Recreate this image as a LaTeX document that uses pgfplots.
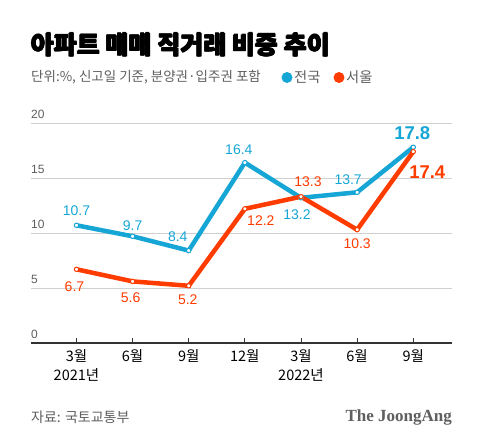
\documentclass[border=0pt]{standalone}
\usepackage{fontspec}
\setmainfont{Liberation Sans}
\newfontfamily\kr{Noto Sans CJK KR}
\newfontfamily\jserif{Liberation Serif}
\usepackage{pgfplots}
\pgfplotsset{compat=1.18}
\usepackage{pgfplotstable}
\definecolor{cblue}{RGB}{22,166,214}
\definecolor{cred}{RGB}{255,60,0}
\definecolor{tgray}{RGB}{95,95,95}
\definecolor{ggray}{RGB}{208,208,208}

\pgfplotstableread{
x y dx dy big
0 10.7 0 15 0
1 9.7 0 11 0
2 8.4 -11 14 0
3 16.4 -6 13 0
4 13.2 -4 -17 0
5 13.7 -9 13 0
6 17.8 -1 14 1
}\tblblue

\pgfplotstableread{
x y dx dy big
0 6.7 -2 -17 0
1 5.6 -2 -16 0
2 5.2 -1 -14 0
3 12.2 16 -12 0
4 13.3 7 15 0
5 10.3 0 -14 0
6 17.4 14 -21 1
}\tblred

\begin{document}
\begin{tikzpicture}
\useasboundingbox[fill=white] (0,0) rectangle (480pt,444pt);
% title (overprinted for a heavier weight)
\foreach \ox/\oy in {0/0, 0.45/0, 0.9/0, 0.45/0.35, 0.45/-0.35}{
  \node[anchor=west, inner sep=0pt] at (30.5pt+\ox pt,399pt+\oy pt) {\kr\bfseries\fontsize{25}{28}\selectfont 아파트 매매 직거래 비중 추이};
}
\node[anchor=west, inner sep=0pt, text=tgray] at (31pt,366.5pt) {\kr\fontsize{13.5}{15}\selectfont 단위:\%, 신고일 기준, 분양권·입주권 포함};
\fill[cblue] (287pt,366.5pt) circle (5.5pt);
\node[anchor=west, inner sep=0pt, text=tgray] at (294pt,366.5pt) {\kr\fontsize{14.3}{16}\selectfont 전국};
\fill[cred] (339pt,366.5pt) circle (5.5pt);
\node[anchor=west, inner sep=0pt, text=tgray] at (346pt,366.5pt) {\kr\fontsize{14.3}{16}\selectfont 서울};
% footer
\node[anchor=west, inner sep=0pt, text=tgray] at (31pt,27pt) {\kr\fontsize{14}{16}\selectfont 자료: 국토교통부};
\node[anchor=east, inner sep=0pt, text=tgray] at (452pt,27pt) {\jserif\bfseries\fontsize{17}{19}\selectfont The JoongAng};

\begin{axis}[
  at={(31pt,101pt)}, anchor=south west,
  scale only axis, width=421pt, height=220pt,
  xmin=-0.81, xmax=6.69, ymin=0, ymax=20,
  clip=false,
  separate axis lines,
  axis x line*=bottom, axis y line*=left,
  x axis line style={-, draw=black!80, line width=1.1pt},
  y axis line style={draw=none},
  xtick={0,1,2,3,4,5,6},
  xticklabels={{3월\\2021년},6월,9월,12월,{3월\\2022년},6월,9월},
  xticklabel style={font=\kr\fontsize{14.5}{19}\selectfont, align=center, inner sep=0pt, yshift=-6pt, text=black},
  xtick style={draw=black!80, line width=0.8pt},
  tick align=inside, major tick length=5pt,
  ytick={0,5,10,15,20},
  ytick style={draw=none},
  yticklabel style={anchor=south west, inner sep=0pt, xshift=0pt, yshift=4pt, font=\fontsize{12}{14}\selectfont, text=tgray},
  /pgf/number format/assume math mode=true,
  ymajorgrids, major grid style={draw=ggray, line width=0.8pt},
  point meta=explicit,
  nodes near coords={\ifdim\isbig pt>0.5pt\bfseries\fontsize{18.5}{20}\selectfont\fi\pgfmathprintnumber[fixed,fixed zerofill,precision=1]{\pgfplotspointmeta}},
  visualization depends on={\thisrow{dx} \as \dx},
  visualization depends on={\thisrow{dy} \as \dy},
  visualization depends on={\thisrow{big} \as \isbig},
]
\addplot[cblue, line width=4.5pt, line join=round, line cap=round,
  mark=*, mark size=2.2pt, mark options={fill=white, draw=cblue, line width=1pt},
  nodes near coords style={font=\fontsize{14}{16}\selectfont, inner sep=0pt, anchor=center, xshift=\dx pt, yshift=\dy pt, text=cblue}]
  table[x=x, y=y, meta=y] {\tblblue};
\addplot[cred, line width=4.5pt, line join=round, line cap=round,
  mark=*, mark size=2.2pt, mark options={fill=white, draw=cred, line width=1pt},
  nodes near coords style={font=\fontsize{14}{16}\selectfont, inner sep=0pt, anchor=center, xshift=\dx pt, yshift=\dy pt, text=cred}]
  table[x=x, y=y, meta=y] {\tblred};
\end{axis}
\end{tikzpicture}
\end{document}
